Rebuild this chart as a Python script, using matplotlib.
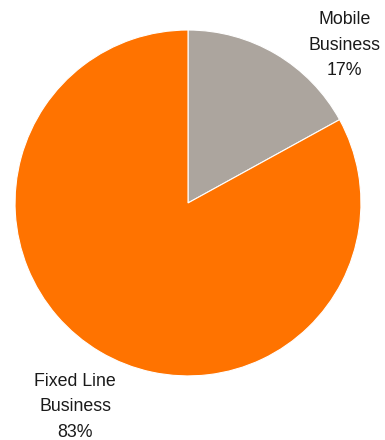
import matplotlib.pyplot as plt

labels = ["Mobile\nBusiness\n17%", "Fixed Line\nBusiness\n83%"]
shares = [17, 83]
colors = ["#aca59e", "#ff7300"]
label_pos = [(0.905, 0.913), (-0.653, -1.179)]

plt.rcParams["font.family"] = ["Liberation Sans", "DejaVu Sans"]

fig = plt.figure(figsize=(3.85, 4.4), dpi=100)
ax = fig.add_axes([0, 0, 1, 1])

ax.pie(shares, colors=colors, startangle=90, counterclock=False,
       radius=1.0, wedgeprops=dict(edgecolor="white", linewidth=0.8))

for txt, (x, y) in zip(labels, label_pos):
    ax.text(x, y, txt, ha="center", va="center", fontsize=12.8,
            color="#1a1a1a", linespacing=1.65)

ax.set_xlim(-1.087, 1.139)
ax.set_ylim(-1.370, 1.173)
ax.set_aspect("equal")
ax.axis("off")

fig.savefig("out.png", dpi=100)
